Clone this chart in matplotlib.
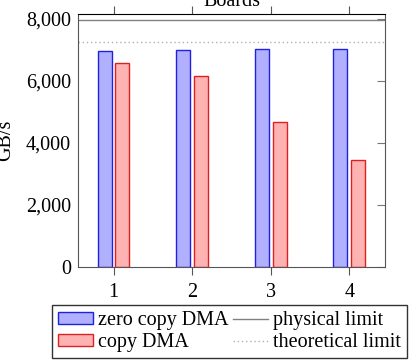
import numpy as np
import matplotlib
matplotlib.use("Agg")
import matplotlib.pyplot as plt

plt.rcParams['font.family'] = ['Liberation Serif', 'DejaVu Serif']

boards = [1, 2, 3, 4]
zero_copy = [6980, 7010, 7040, 7020]
copy_dma = [6580, 6150, 4690, 3440]
physical_limit = 7980
theoretical_limit = 7270

fig = plt.figure(figsize=(4.1, 3.6), dpi=100)
ax = fig.add_axes([78/410, 1-267/360, (385-78)/410, (267-14.3)/360])

x = np.array(boards)
w = 0.178
off = 0.114
b1 = ax.bar(x - off, zero_copy, w, color='#b0b0ff', edgecolor='#2020e0', linewidth=1, label='zero copy DMA')
b2 = ax.bar(x + off, copy_dma, w, color='#ffb2b2', edgecolor='#e02020', linewidth=1, label='copy DMA')
l1 = ax.axhline(physical_limit, color='#808080', linewidth=1, label='physical limit')
l2 = ax.axhline(theoretical_limit, color='#b0b0b0', linewidth=1, linestyle=(0, (1, 2)), label='theoretical limit')

ax.set_xlim(0.548, 4.454)
ax.set_ylim(0, 8150)
ax.set_xticks(boards)
ax.set_yticks([0, 2000, 4000, 6000, 8000])
ax.set_yticklabels(['{:,}'.format(v) for v in [0, 2000, 4000, 6000, 8000]])

fs = 14.5
ax.tick_params(axis='x', which='both', direction='out', length=5.8, width=0.8,
               color='#555555', top=True, bottom=True, labelsize=fs, pad=6)
ax.tick_params(axis='y', which='both', direction='in', length=5.8, width=0.8,
               color='#777777', left=False, right=True, labelsize=fs, pad=5)
for s in ['left', 'right', 'bottom']:
    ax.spines[s].set_color('#555555')
ax.spines['top'].set_color('black')

ax.xaxis.set_label_position('top')
ax.set_xlabel('Boards', fontsize=fs, labelpad=0.5)
ax.set_ylabel('GB/s', fontsize=fs, labelpad=8)

leg = fig.legend([b1, b2, l1, l2], ['zero copy DMA', 'copy DMA', 'physical limit', 'theoretical limit'],
                 loc='upper left', bbox_to_anchor=(51.7/410, 1-305/360), ncol=2,
                 fontsize=fs, frameon=True, fancybox=False, edgecolor='black',
                 handlelength=1.74, handleheight=0.5, handletextpad=0.25, columnspacing=0.25,
                 borderpad=0.3, labelspacing=0.15, borderaxespad=0)
leg.get_frame().set_linewidth(1)

fig.savefig('out.png', dpi=100)
